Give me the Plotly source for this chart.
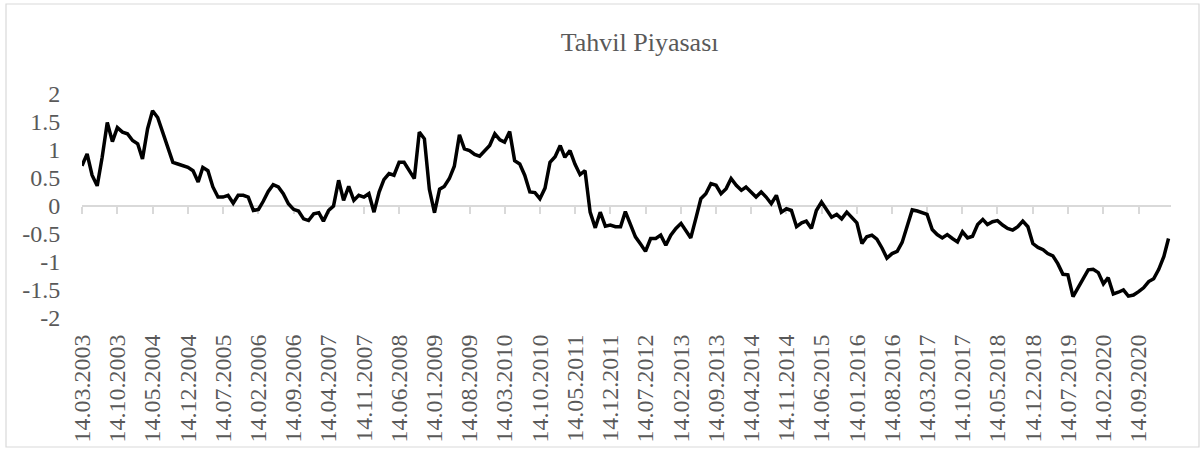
import pandas as pd
import plotly.graph_objects as go

# monthly readings (14th of each month), 14.03.2003 -> 14.03.2021
start = '2003-03-14'
values = [
    0.72, 0.93, 0.55, 0.36, 0.87, 1.49, 1.15, 1.40, 1.32, 1.29, 1.17, 1.11,
    0.84, 1.38, 1.70, 1.58, 1.32, 1.05, 0.78, 0.75, 0.72, 0.69, 0.63, 0.43,
    0.69, 0.63, 0.34, 0.16, 0.16, 0.19, 0.05, 0.19, 0.19, 0.16, -0.08, -0.06,
    0.08, 0.26, 0.38, 0.34, 0.22, 0.04, -0.06, -0.09, -0.23, -0.26, -0.14, -0.12,
    -0.27, -0.08, 0.00, 0.46, 0.10, 0.35, 0.10, 0.19, 0.16, 0.22, -0.11, 0.25,
    0.47, 0.58, 0.55, 0.78, 0.78, 0.63, 0.49, 1.32, 1.20, 0.30, -0.12, 0.30,
    0.35, 0.49, 0.71, 1.27, 1.02, 0.99, 0.92, 0.89, 0.99, 1.08, 1.29, 1.18,
    1.14, 1.33, 0.81, 0.75, 0.55, 0.25, 0.24, 0.13, 0.32, 0.78, 0.88, 1.08,
    0.87, 0.99, 0.75, 0.56, 0.63, -0.11, -0.39, -0.11, -0.36, -0.34, -0.37, -0.37,
    -0.10, -0.34, -0.55, -0.68, -0.81, -0.58, -0.58, -0.52, -0.70, -0.52, -0.40, -0.31,
    -0.43, -0.57, -0.23, 0.13, 0.22, 0.40, 0.37, 0.22, 0.31, 0.49, 0.37, 0.28,
    0.34, 0.25, 0.16, 0.25, 0.16, 0.04, 0.19, -0.11, -0.05, -0.08, -0.37, -0.30,
    -0.27, -0.40, -0.08, 0.07, -0.05, -0.20, -0.15, -0.23, -0.11, -0.20, -0.30, -0.67,
    -0.55, -0.52, -0.59, -0.75, -0.93, -0.85, -0.81, -0.65, -0.34, -0.07, -0.09, -0.12,
    -0.15, -0.42, -0.51, -0.57, -0.51, -0.58, -0.64, -0.46, -0.57, -0.54, -0.33, -0.24,
    -0.33, -0.28, -0.26, -0.34, -0.40, -0.43, -0.37, -0.27, -0.37, -0.67, -0.74, -0.78,
    -0.85, -0.89, -1.03, -1.22, -1.23, -1.62, -1.44, -1.30, -1.14, -1.13, -1.19, -1.39,
    -1.28, -1.57, -1.54, -1.50, -1.61, -1.59, -1.53, -1.46, -1.35, -1.30, -1.13, -0.90,
    -0.58,
]
dates = pd.date_range(start, periods=len(values), freq=pd.DateOffset(months=1))

y_ticks = [2, 1.5, 1, 0.5, 0, -0.5, -1, -1.5, -2]
y_labels = ['2', '1.5', '1', '0.5', '0', '-0.5', '-1', '-1.5', '-2']

font = 'Liberation Serif, Times New Roman, serif'
grey = '#595959'
axis_grey = '#d9d9d9'
x_range = ['2003-03-14', '2021-03-29']

fig = go.Figure()
# invisible copy on the zero-line axis
fig.add_trace(go.Scatter(
    x=dates, y=values, mode='lines',
    line=dict(color='rgba(0,0,0,0)', width=0),
    hoverinfo='skip', showlegend=False,
))
# the series, on the overlay axis so it is drawn last (above zero line/ticks)
fig.add_trace(go.Scatter(
    x=dates, y=values, xaxis='x2', mode='lines',
    line=dict(color='black', width=3.5),
    hoverinfo='x+y', showlegend=False,
))

fig.update_layout(
    width=1200, height=459,
    paper_bgcolor='white', plot_bgcolor='rgba(0,0,0,0)',
    margin=dict(l=82, r=29, t=94, b=141),
    title=dict(text='Tahvil Piyasası', x=0.533, xanchor='center', y=0.908, yanchor='middle',
               font=dict(family=font, size=26, color=grey)),
    font=dict(family=font, color=grey),
    # axis line + tick marks sitting on zero
    xaxis=dict(
        type='date', range=x_range, anchor='free', position=0.5,
        tick0='2003-03-14', dtick='M7',
        showticklabels=False, showgrid=False, zeroline=False,
        showline=True, linecolor=axis_grey, linewidth=1.5,
        ticks='outside', ticklen=7, tickwidth=1.5, tickcolor=axis_grey,
        layer='below traces',
    ),
    # date labels at the bottom
    xaxis2=dict(
        type='date', range=x_range, overlaying='x', anchor='y', side='bottom',
        tick0='2003-03-14', dtick='M7', tickformat='%d.%m.%Y',
        tickangle=-90, tickfont=dict(size=24, color=grey),
        showgrid=False, showline=False, zeroline=False,
        ticks='outside', ticklen=6, tickcolor='rgba(0,0,0,0)',
    ),
    yaxis=dict(
        range=[-2, 2], tickvals=y_ticks, ticktext=y_labels,
        tickfont=dict(size=24, color=grey),
        showgrid=False, showline=False,
        zeroline=True, zerolinecolor=axis_grey, zerolinewidth=1.5,
        ticks='outside', ticklen=16, tickcolor='rgba(0,0,0,0)',
        layer='below traces',
    ),
    shapes=[dict(type='rect', xref='paper', yref='paper',
                 x0=-76 / 1089, x1=1117 / 1089, y0=-129 / 224, y1=314 / 224,
                 line=dict(color=axis_grey, width=1.2), layer='below')],
)

fig.write_html('out.html', config={'displayModeBar': False},
               post_script="document.body.style.margin = '0';")
